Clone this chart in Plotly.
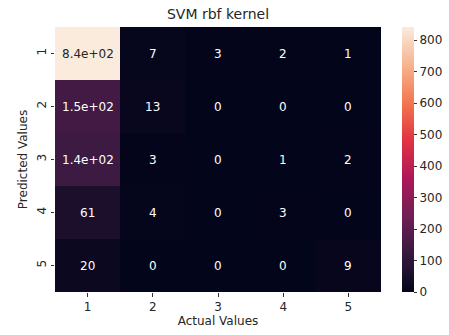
import plotly.graph_objects as go

actual_labels = [1, 2, 3, 4, 5]
predicted_labels = [1, 2, 3, 4, 5]
matrix = [
    [842, 7, 3, 2, 1],
    [148, 13, 0, 0, 0],
    [137, 3, 0, 1, 2],
    [61, 4, 0, 3, 0],
    [20, 0, 0, 0, 9],
]
colorbar_ticks = [0, 100, 200, 300, 400, 500, 600, 700, 800]
title_text = "SVM rbf kernel"

rocket = [
    [0.0, "#03051a"],
    [1/7, "#35193e"],
    [2/7, "#701f57"],
    [3/7, "#ad1759"],
    [4/7, "#e13342"],
    [5/7, "#f37651"],
    [6/7, "#f6b48f"],
    [1.0, "#faebdd"],
]

zmax = max(max(r) for r in matrix)
zmin = min(min(r) for r in matrix)

PL, PR, PT, PB = 55, 381, 27, 292
W, H = 449, 335
pw = PR - PL
FS = 12
TXT = "#262626"

fig = go.Figure(go.Heatmap(
    z=matrix, x=actual_labels, y=predicted_labels,
    colorscale=rocket, zmin=zmin, zmax=zmax, xgap=0, ygap=0,
    hoverinfo="skip",
    colorbar=dict(
        x=(402 - PL) / pw, xanchor="left",
        y=0, yanchor="bottom", len=1, lenmode="fraction",
        thickness=12, outlinewidth=0, xpad=0, ypad=0,
        ticks="outside", ticklen=3.5, tickwidth=0.8, tickcolor="#333333",
        tickvals=colorbar_ticks,
        tickfont=dict(family="DejaVu Sans", size=FS, color=TXT),
    ),
))

annotations = []
for i, row in enumerate(matrix):
    for j, v in enumerate(row):
        frac = (v - zmin) / (zmax - zmin)
        color = TXT if frac > 0.6 else "#ffffff"
        annotations.append(dict(
            x=actual_labels[j], y=predicted_labels[i], text=format(v, ".2g"),
            showarrow=False, font=dict(family="DejaVu Sans", size=FS, color=color),
        ))

fig.update_layout(
    width=W, height=H,
    margin=dict(l=PL, r=W - PR, t=PT, b=H - PB, pad=0, autoexpand=False),
    paper_bgcolor="white", plot_bgcolor="white",
    annotations=annotations,
    title=dict(text=title_text, x=(PL + PR) / 2 / W, xanchor="center",
               y=1 - 14 / H, yanchor="middle",
               font=dict(family="DejaVu Sans", size=14, color=TXT)),
    xaxis=dict(title=dict(text="Actual Values", standoff=3,
                          font=dict(family="DejaVu Sans", size=FS, color=TXT)),
               range=[0.5, 5.5], tickvals=actual_labels,
               ticktext=[str(v) for v in actual_labels],
               ticks="outside", ticklen=3.5, tickwidth=0.8, tickcolor="#333333",
               tickfont=dict(family="DejaVu Sans", size=FS, color=TXT),
               showgrid=False, zeroline=False, showline=False, automargin=False),
    yaxis=dict(title=dict(text="Predicted Values", standoff=4,
                          font=dict(family="DejaVu Sans", size=FS, color=TXT)),
               range=[5.5, 0.5], tickvals=predicted_labels,
               ticktext=[str(v) for v in predicted_labels], tickangle=-90,
               ticks="outside", ticklen=3.5, tickwidth=0.8, tickcolor="#333333",
               tickfont=dict(family="DejaVu Sans", size=FS, color=TXT),
               showgrid=False, zeroline=False, showline=False, automargin=False),
)

fig.write_html("out.html", config={"displayModeBar": False},
               post_script="document.body.style.margin='0px';")
